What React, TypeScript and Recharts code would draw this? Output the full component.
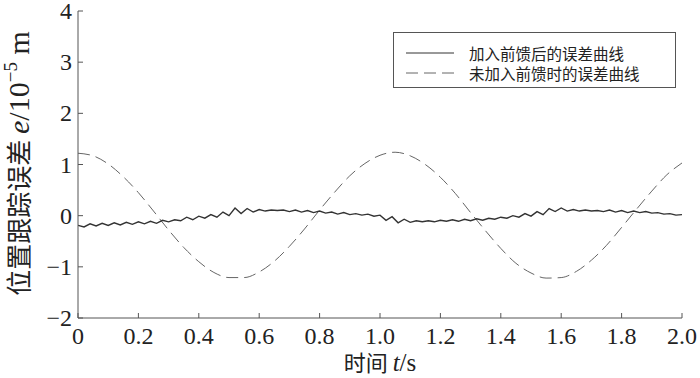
import React from "react";
import { LineChart, Line, XAxis, YAxis, Legend, Label } from "recharts";

const AXIS = "#555555";
const SOLID = "#333333";
const DASH = "#666666";
const NUM_FONT = "'Liberation Serif', 'DejaVu Serif', serif";
const CJK_FONT = "'Noto Sans CJK SC', 'Noto Sans', sans-serif";

const X_TICKS = [0, 0.2, 0.4, 0.6, 0.8, 1.0, 1.2, 1.4, 1.6, 1.8, 2.0];
const Y_TICKS = [-2, -1, 0, 1, 2, 3, 4];

// 加入前馈后的误差曲线, sampled every 0.02 s
const errWithFF = [
  -0.19, -0.22, -0.16, -0.2, -0.15, -0.19, -0.14, -0.18, -0.13, -0.17,
  -0.12, -0.16, -0.11, -0.15, -0.09, -0.12, -0.08, -0.1, -0.03, -0.08,
  -0.01, -0.05, 0.02, -0.03, 0.07, 0.0, 0.15, 0.04, 0.14, 0.07,
  0.12, 0.09, 0.11, 0.1, 0.11, 0.08, 0.11, 0.07, 0.1, 0.06,
  0.09, 0.05, 0.07, 0.03, 0.06, 0.02, 0.04, 0.01, 0.03, -0.01,
  0.01, -0.09, -0.02, -0.14, -0.07, -0.13, -0.1, -0.12, -0.1, -0.12,
  -0.09, -0.11, -0.08, -0.11, -0.07, -0.1, -0.06, -0.09, -0.05, -0.07,
  -0.03, -0.05, 0.0, -0.03, 0.04, -0.01, 0.08, 0.02, 0.14, 0.08,
  0.15, 0.09, 0.12, 0.09, 0.11, 0.09, 0.1, 0.08, 0.11, 0.07,
  0.1, 0.06, 0.09, 0.06, 0.08, 0.05, 0.06, 0.03, 0.04, 0.01,
  0.02,
];

// 未加入前馈时的误差曲线, sampled every 0.05 s
const errNoFF = [
  1.22, 1.17, 1.01, 0.76, 0.45, 0.09, -0.28, -0.62, -0.9, -1.11,
  -1.21, -1.21, -1.1, -0.89, -0.6, -0.26, 0.11, 0.46, 0.78, 1.02,
  1.18, 1.24, 1.17, 1.0, 0.75, 0.43, 0.06, -0.3, -0.64, -0.93,
  -1.12, -1.22, -1.21, -1.09, -0.87, -0.58, -0.23, 0.13, 0.48, 0.8,
  1.03,
];

const solidData = errWithFF.map((v, i) => ({ t: +(i * 0.02).toFixed(2), e: v }));
const dashData = errNoFF.map((v, i) => ({ t: +(i * 0.05).toFixed(2), e: v }));

const fmtX = (v: number) => (v === 0 ? "0" : v.toFixed(1));
const fmtY = (v: number) => (v < 0 ? "\u2212" + Math.abs(v) : String(v));

function BottomTick({ x, y, payload }: any) {
  return (
    <g>
      <line x1={x} x2={x} y1={y} y2={y - 5} stroke={AXIS} />
      <text x={x} y={y + 26} textAnchor="middle" fontSize={24} fontFamily={NUM_FONT} fill="#222">
        {fmtX(payload.value)}
      </text>
    </g>
  );
}

function TopTick({ x, y }: any) {
  return <line x1={x} x2={x} y1={y} y2={y + 5} stroke={AXIS} />;
}

function LeftTick({ x, y, payload }: any) {
  return (
    <g>
      <line x1={x} x2={x + 5} y1={y} y2={y} stroke={AXIS} />
      <text x={x - 6} y={y + 8} textAnchor="end" fontSize={24} fontFamily={NUM_FONT} fill="#222">
        {fmtY(payload.value)}
      </text>
    </g>
  );
}

function RightTick({ x, y }: any) {
  return <line x1={x} x2={x - 5} y1={y} y2={y} stroke={AXIS} />;
}

function XTitle({ viewBox }: any) {
  const cx = viewBox.x + viewBox.width / 2;
  const cy = viewBox.y + viewBox.height - 7;
  return (
    <text x={cx} y={cy} textAnchor="middle" fill="#222">
      <tspan fontFamily={CJK_FONT} fontSize={22}>时间 </tspan>
      <tspan fontFamily={NUM_FONT} fontStyle="italic" fontSize={25}>t</tspan>
      <tspan fontFamily={NUM_FONT} fontSize={25}>/s</tspan>
    </text>
  );
}

function YTitle({ viewBox }: any) {
  const cx = viewBox.x + 29;
  const cy = viewBox.y + viewBox.height / 2 - 1;
  return (
    <text x={cx} y={cy} textAnchor="middle" transform={`rotate(-90, ${cx}, ${cy})`} fill="#222">
      <tspan fontFamily={CJK_FONT} fontSize={26}>位置跟踪误差 </tspan>
      <tspan fontFamily={NUM_FONT} fontStyle="italic" fontSize={30}>e</tspan>
      <tspan fontFamily={NUM_FONT} fontSize={30}>/10</tspan>
      <tspan fontFamily={NUM_FONT} fontSize={19} dy={-12}>{"\u2212"}5</tspan>
      <tspan fontFamily={NUM_FONT} fontSize={30} dy={12}> m</tspan>
    </text>
  );
}

function LegendBox() {
  const rows = [
    { label: "加入前馈后的误差曲线", dash: undefined as string | undefined, color: SOLID },
    { label: "未加入前馈时的误差曲线", dash: "12 6", color: DASH },
  ];
  return (
    <div
      style={{
        width: 283,
        height: 56,
        boxSizing: "border-box",
        border: `1px solid ${AXIS}`,
        background: "#fff",
        paddingTop: 10,
      }}
    >
      {rows.map((r) => (
        <div key={r.label} style={{ display: "flex", alignItems: "center", height: 20 }}>
          <svg width={72} height={20} style={{ display: "block" }}>
            <line x1={12} x2={60} y1={10} y2={10} stroke={r.color} strokeWidth={1} strokeDasharray={r.dash} />
          </svg>
          <span style={{ fontFamily: CJK_FONT, fontSize: 15.5, lineHeight: "20px", color: "#222", marginLeft: 3 }}>
            {r.label}
          </span>
        </div>
      ))}
    </div>
  );
}

export default function App() {
  return (
    <div style={{ position: "absolute", left: 0, top: 0, width: 700, height: 378, background: "#fff" }}>
      <LineChart width={700} height={378} margin={{ top: 11, right: 18, bottom: 0, left: 0 }}>
        <XAxis
          dataKey="t"
          type="number"
          domain={[0, 2]}
          ticks={X_TICKS}
          allowDataOverflow
          height={60}
          tickSize={0}
          tickMargin={0}
          tick={<BottomTick />}
          stroke={AXIS}
          interval={0}
        >
          <Label content={<XTitle />} />
        </XAxis>
        <XAxis
          xAxisId="top"
          orientation="top"
          dataKey="t"
          type="number"
          domain={[0, 2]}
          ticks={X_TICKS}
          allowDataOverflow
          height={0}
          tickSize={0}
          tickMargin={0}
          tick={<TopTick />}
          stroke={AXIS}
          interval={0}
        />
        <YAxis
          type="number"
          domain={[-2, 4]}
          ticks={Y_TICKS}
          allowDataOverflow
          width={78}
          tickSize={0}
          tickMargin={0}
          tick={<LeftTick />}
          stroke={AXIS}
          interval={0}
        >
          <Label content={<YTitle />} />
        </YAxis>
        <YAxis
          yAxisId="right"
          orientation="right"
          type="number"
          domain={[-2, 4]}
          ticks={Y_TICKS}
          allowDataOverflow
          width={0}
          tickSize={0}
          tickMargin={0}
          tick={<RightTick />}
          stroke={AXIS}
          interval={0}
        />
        <Legend
          layout="vertical"
          align="center"
          verticalAlign="middle"
          content={<LegendBox />}
          wrapperStyle={{ top: 32, left: 393, width: 283, height: 56 }}
        />
        <Line
          data={dashData}
          dataKey="e"
          name="未加入前馈时的误差曲线"
          type="monotone"
          stroke={DASH}
          strokeWidth={1}
          strokeDasharray="12 6"
          dot={false}
          isAnimationActive={false}
        />
        <Line
          data={solidData}
          dataKey="e"
          name="加入前馈后的误差曲线"
          type="linear"
          stroke={SOLID}
          strokeWidth={1.4}
          dot={false}
          isAnimationActive={false}
        />
      </LineChart>
    </div>
  );
}
